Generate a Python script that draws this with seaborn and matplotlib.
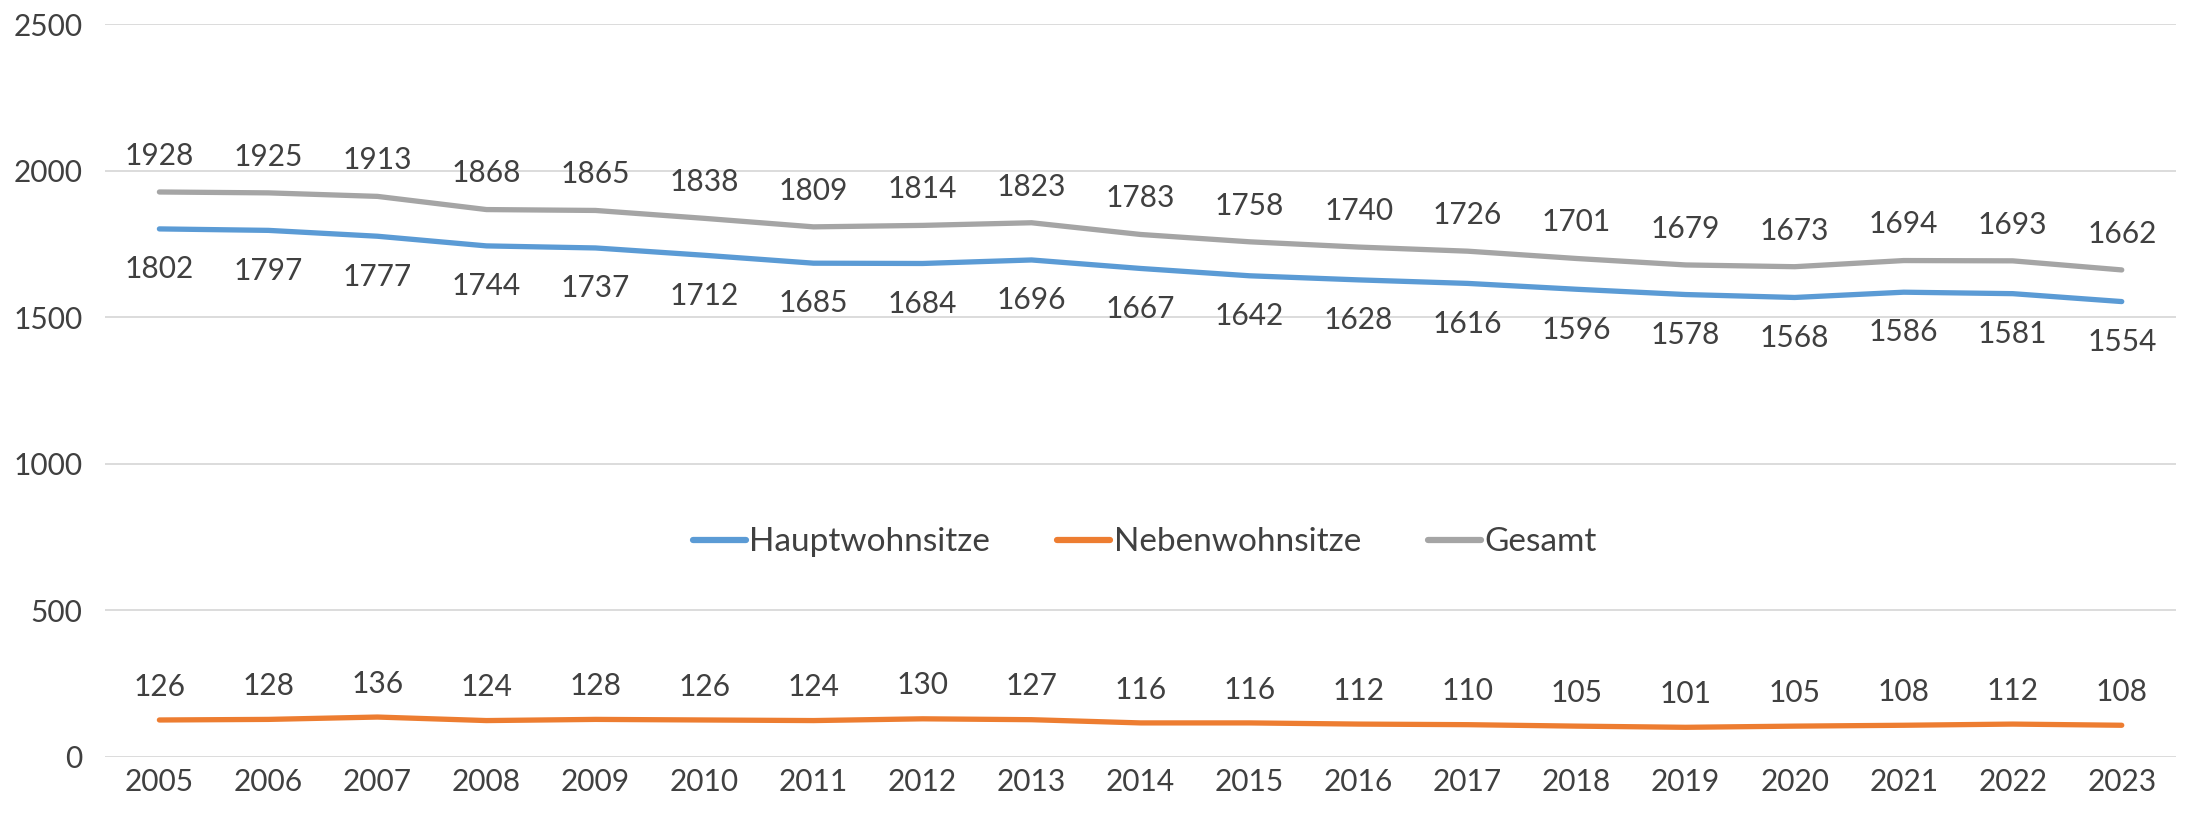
import matplotlib
matplotlib.use("Agg")
import matplotlib.pyplot as plt
import seaborn as sns
import pandas as pd

years = [str(y) for y in range(2005, 2024)]
haupt = [1802, 1797, 1777, 1744, 1737, 1712, 1685, 1684, 1696, 1667, 1642, 1628, 1616, 1596, 1578, 1568, 1586, 1581, 1554]
neben = [126, 128, 136, 124, 128, 126, 124, 130, 127, 116, 116, 112, 110, 105, 101, 105, 108, 112, 108]
gesamt = [1928, 1925, 1913, 1868, 1865, 1838, 1809, 1814, 1823, 1783, 1758, 1740, 1726, 1701, 1679, 1673, 1694, 1693, 1662]
series_names = ["Hauptwohnsitze", "Nebenwohnsitze", "Gesamt"]
colors = ["#5B9BD5", "#ED7D31", "#A5A5A5"]

sns.set_theme(style="white")
plt.rcParams['font.family'] = ['Lato', 'DejaVu Sans']

df = pd.DataFrame({
    "Jahr": years * 3,
    "Wert": haupt + neben + gesamt,
    "Serie": [series_names[0]] * len(years) + [series_names[1]] * len(years) + [series_names[2]] * len(years),
})

fig = plt.figure(figsize=(21.85, 8.13), dpi=100)
ax = fig.add_axes([0.048, 0.069, 0.948, 0.901])

sns.lineplot(data=df, x="Jahr", y="Wert", hue="Serie", palette=colors, linewidth=3.8,
             ax=ax, sort=False, legend=True)
for line in ax.lines:
    line.set_solid_capstyle("round")
    line.set_solid_joinstyle("round")

ax.set_ylim(0, 2500)
ax.set_xlim(-0.5, len(years) - 0.5)
ax.set_yticks([0, 500, 1000, 1500, 2000, 2500])
ax.grid(axis="y", color="#D9D9D9", linewidth=1.3)
ax.set_axisbelow(True)
for s in ax.spines.values():
    s.set_visible(False)
ax.set_xlabel("")
ax.set_ylabel("")
ax.tick_params(axis="both", length=0, labelsize=21.5, colors="#595959", pad=8)
ax.tick_params(axis="y", pad=16)
for lbl in ax.get_xticklabels() + ax.get_yticklabels():
    lbl.set_color("#404040")

txt_kw = dict(fontsize=21.5, color="#404040", ha="center", va="center")
for i in range(len(years)):
    ax.annotate(str(gesamt[i]), (i, gesamt[i]), xytext=(0, 26), textcoords="offset points", **txt_kw)
    ax.annotate(str(haupt[i]), (i, haupt[i]), xytext=(0, -29), textcoords="offset points", **txt_kw)
    ax.annotate(str(neben[i]), (i, neben[i]), xytext=(0, 24), textcoords="offset points", **txt_kw)

handles, labels = ax.get_legend_handles_labels()
leg = ax.legend(handles, labels, loc="center", bbox_to_anchor=(0.502, 0.293), ncol=3, frameon=False,
                fontsize=24, handlelength=1.6, handletextpad=0.1, columnspacing=2.0)
for t in leg.get_texts():
    t.set_color("#404040")
for h in leg.get_lines():
    h.set_linewidth(4.5)

fig.savefig("out.png", dpi=100)
